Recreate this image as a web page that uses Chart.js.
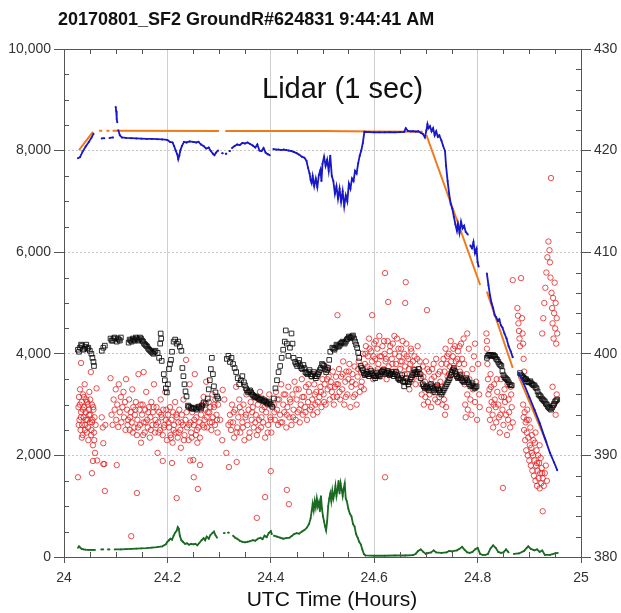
<!DOCTYPE html>
<html>
<head>
<meta charset="utf-8">
<script src="https://cdn.jsdelivr.net/npm/chart.js@4.4.1/dist/chart.umd.min.js"></script>
<style>
  body { margin: 0; background: #fff; }
  canvas { display: block; }
</style>
</head>
<body>
<canvas id="myChart" width="621" height="613"></canvas>
<script>
// ---- chart text ----
const chartTitle = '20170801_SF2 GroundR#624831 9:44:41 AM';
const xTitle = 'UTC Time (Hours)';
const noteText = 'Lidar (1 sec)';

// ---- axis ranges / ticks ----
const xTicks = [24, 25, 0.2];          // min, max, step
const leftTicks = [0, 10000, 2000];
const rightTicks = [380, 430, 10];

// ---- series: [time (hours), value] ; null = gap ----
// orange: lidar altitude (left axis)
const lidarFit = [
  [24.029, 8010], [24.056, 8370], [24.060, null],
  [24.068, 8390], [24.074, 8390], [24.077, null],
  [24.082, 8390], [24.088, 8390], [24.091, null],
  [24.094, 8390], [24.300, 8388], [24.302, null],
  [24.306, 8388], [24.309, null],
  [24.312, 8388], [24.500, 8385], [24.600, 8375], [24.694, 8372], [24.697, null],
  [24.701, 8307], [24.805, 5354], [24.810, null],
  [24.818, 5223], [24.868, 3720], [24.874, null],
  [24.880, 3543], [24.934, 2244]
];

// blue: lidar 1 sec altitude (left axis)
const lidar1s = [
  [24.027, 7850], [24.031, 7870], [24.036, 7980], [24.042, 8080], [24.048, 8170], [24.053, 8250], [24.057, 8330], [24.062, null],
  [24.073, 8240], [24.078, 8245], [24.082, null], [24.088, 8250], [24.095, 8260], [24.098, null],
  [24.100, 8860], [24.101, 8780], [24.102, 8620], [24.103, 8560], [24.104, null],
  [24.105, 8400], [24.108, 8300], [24.112, 8260], [24.120, 8250], [24.130, 8245], [24.140, 8240], [24.150, 8235],
  [24.160, 8230], [24.170, 8230], [24.180, 8225], [24.190, 8220], [24.200, 8210],
  [24.205, 8170], [24.210, 8160], [24.213, 8090], [24.216, 8000], [24.219, 7930], [24.221, 7830], [24.223, 7900],
  [24.225, 8000], [24.228, 8090], [24.232, 8170], [24.237, 8160], [24.243, 8180], [24.250, 8170], [24.256, 8160],
  [24.260, 8175], [24.265, 8120], [24.270, 8090], [24.275, 8040], [24.280, 8060], [24.284, 7990], [24.288, 7940],
  [24.291, 7910], [24.294, 7960], [24.298, 8000], [24.300, null],
  [24.306, 7950], [24.307, 7950], [24.309, null], [24.313, 7940], [24.314, 7940], [24.316, null], [24.320, 7990], [24.321, 7990], [24.322, null],
  [24.325, 8050], [24.330, 8090], [24.335, 8120], [24.340, 8110], [24.345, 8150], [24.350, 8140], [24.355, 8160],
  [24.360, 8130], [24.365, 8100], [24.370, 8060], [24.374, 8120], [24.378, 8000], [24.382, 7990], [24.386, 8050],
  [24.390, 7960], [24.394, 7930], [24.398, 7910], [24.401, null],
  [24.405, 8030], [24.410, 8020], [24.415, 8020], [24.420, 8010], [24.425, 8020], [24.430, 8010], [24.435, 8000],
  [24.440, 7990], [24.445, 7970], [24.450, 7950], [24.455, 7920], [24.460, 7880], [24.465, 7860], [24.469, 7800],
  [24.472, 7660], [24.475, 7550], [24.477, 7420], [24.479, 7360], [24.481, 7500], [24.484, 7300], [24.487, 7450],
  [24.490, 7280], [24.493, 7520], [24.496, 7620], [24.498, 7400], [24.500, 7740], [24.503, 7880], [24.506, 7700],
  [24.509, 7820], [24.512, 7600], [24.515, 7900], [24.518, 7500], [24.521, 7400], [24.524, 7150], [24.527, 7300],
  [24.530, 7050], [24.533, 7250], [24.536, 6990], [24.539, 7200], [24.542, 6900], [24.545, 7120], [24.548, 7000],
  [24.551, 7350], [24.554, 7250], [24.557, 7450], [24.560, 7400], [24.563, 7600], [24.566, 7550], [24.569, 7750],
  [24.572, 7900], [24.575, 8000], [24.578, 8150], [24.581, 8370], [24.590, 8365], [24.600, 8360], [24.610, 8360],
  [24.620, 8360], [24.630, 8365], [24.640, 8360], [24.650, 8365], [24.658, 8370], [24.661, 8440], [24.665, 8390],
  [24.670, 8380], [24.675, 8385], [24.680, 8375], [24.685, 8380], [24.690, 8350], [24.694, 8330], [24.698, 8260],
  [24.701, 8400], [24.703, 8520], [24.705, 8440], [24.708, 8480], [24.711, 8380], [24.714, 8440], [24.717, 8300],
  [24.720, 8380], [24.723, 8270], [24.726, 8300], [24.730, 8200], [24.733, 8100], [24.737, 7990], [24.739, 7700],
  [24.742, 7400], [24.745, 7150], [24.748, 6950], [24.751, 6860], [24.754, 6700], [24.757, 6550], [24.760, 6420],
  [24.762, 6560], [24.765, 6380], [24.768, 6600], [24.771, 6470], [24.774, 6520], [24.777, 6400], [24.781, 6350], [24.783, null],
  [24.786, 6130], [24.789, 6080], [24.792, 6200], [24.795, 5980], [24.798, 6070], [24.800, 5800], [24.802, 5720], [24.806, null],
  [24.818, 5580], [24.821, 5350], [24.824, 5150], [24.827, 5000], [24.830, 4900], [24.833, 4760], [24.836, 4720],
  [24.839, 4650], [24.842, 4680], [24.845, 4560], [24.848, 4520], [24.852, 4400], [24.856, 4300], [24.860, 4150],
  [24.864, 4050], [24.868, 3930], [24.874, null],
  [24.880, 3620], [24.890, 3400], [24.900, 3150], [24.910, 2900], [24.920, 2640], [24.930, 2340], [24.940, 2050],
  [24.948, 1860], [24.954, 1710]
];

// black squares: right axis
const co2 = [
  [24.027, 400.4], [24.029, 400.2], [24.031, 400.6], [24.033, 400.9], [24.035, 400.8], [24.037, 400.4], [24.039, 400.5],
  [24.041, 400.7], [24.043, 400.9], [24.045, 400.5], [24.047, 400.6], [24.050, 400.3],
  [24.053, 400.0], [24.055, 399.6], [24.057, 399.2], [24.058, 398.8],
  [24.073, 400.3], [24.076, 400.6], [24.079, 400.8],
  [24.090, 401.5], [24.092, 401.3], [24.094, 401.3], [24.096, 401.5], [24.098, 401.6], [24.102, 401.2], [24.104, 401.5],
  [24.106, 401.4], [24.108, 401.3], [24.110, 401.6],
  [24.125, 401.1], [24.127, 401.4], [24.129, 401.3], [24.131, 401.2], [24.133, 401.5], [24.135, 401.4], [24.137, 401.3],
  [24.139, 401.6], [24.141, 401.5], [24.143, 401.3], [24.145, 401.4], [24.147, 401.6], [24.149, 401.5], [24.151, 401.3],
  [24.153, 401.2], [24.155, 401.0], [24.157, 400.9], [24.159, 400.8], [24.161, 400.7], [24.163, 400.5], [24.165, 400.4],
  [24.167, 400.3], [24.169, 400.2], [24.171, 400.1], [24.173, 400.0], [24.175, 400.2], [24.177, 400.3],
  [24.181, 400.1], [24.184, 399.6], [24.186, 401.0], [24.187, 402.0], [24.188, 401.5], [24.189, 399.3],
  [24.193, 398.0], [24.195, 397.4], [24.197, 396.6], [24.199, 396.2], [24.201, 397.0], [24.203, 398.5], [24.205, 399.0],
  [24.207, 399.4], [24.209, 400.2],
  [24.212, 401.2], [24.215, 401.4], [24.218, 401.0], [24.221, 401.2], [24.224, 400.7], [24.227, 400.3],
  [24.229, 398.6], [24.231, 397.8], [24.233, 397.0], [24.235, 396.3], [24.237, 395.8],
  [24.240, 394.9], [24.242, 394.8], [24.245, 394.7], [24.247, 394.6], [24.250, 394.6], [24.252, 394.7], [24.255, 394.6],
  [24.257, 394.5], [24.260, 394.8], [24.262, 394.7], [24.265, 394.6], [24.267, 394.9], [24.270, 395.2], [24.274, 395.1],
  [24.278, 395.6], [24.280, 396.5], [24.282, 397.4], [24.284, 398.5], [24.286, 399.6], [24.288, 398.0], [24.290, 396.8],
  [24.293, 396.2], [24.296, 395.8], [24.298, 395.6],
  [24.315, 399.5], [24.318, 399.8], [24.321, 399.2], [24.324, 399.6], [24.327, 399.0], [24.330, 398.6], [24.333, 398.2],
  [24.336, 397.6], [24.339, 397.0], [24.342, 397.4], [24.345, 397.8],
  [24.348, 397.2], [24.350, 396.9], [24.352, 396.6], [24.354, 396.4], [24.356, 396.2], [24.358, 396.3], [24.360, 396.4],
  [24.362, 396.2], [24.364, 396.0], [24.366, 395.9], [24.368, 395.8], [24.370, 395.7], [24.372, 395.8], [24.374, 395.7],
  [24.376, 395.6], [24.378, 395.5], [24.380, 395.5], [24.382, 395.6], [24.384, 395.4], [24.386, 395.3], [24.388, 395.4],
  [24.390, 395.3], [24.392, 395.2], [24.394, 395.1], [24.396, 395.3], [24.398, 395.1], [24.400, 395.0], [24.403, 394.8],
  [24.406, 395.6], [24.409, 396.6], [24.412, 397.4], [24.415, 398.2], [24.418, 398.8], [24.421, 399.6], [24.424, 400.4],
  [24.427, 401.2], [24.429, 402.3], [24.431, 401.0], [24.434, 399.8], [24.437, 400.6], [24.440, 402.0], [24.442, 401.0], [24.444, 399.6],
  [24.447, 399.2], [24.449, 399.0], [24.451, 398.8], [24.453, 399.1], [24.455, 399.4], [24.457, 398.8], [24.459, 398.6],
  [24.461, 398.5], [24.463, 398.9], [24.465, 398.6], [24.467, 398.2], [24.469, 398.1], [24.471, 398.0], [24.473, 398.2],
  [24.475, 398.4], [24.477, 398.0], [24.479, 397.8], [24.481, 398.0], [24.483, 398.2], [24.485, 397.8], [24.487, 397.6],
  [24.489, 397.8], [24.491, 398.0], [24.493, 398.2], [24.495, 398.4], [24.497, 398.6], [24.499, 399.0], [24.501, 398.9],
  [24.503, 398.8], [24.505, 398.5], [24.507, 398.2], [24.509, 398.4], [24.511, 398.6], [24.513, 399.4], [24.515, 400.2],
  [24.519, 400.6], [24.521, 400.5], [24.523, 400.4], [24.525, 400.6], [24.527, 400.9], [24.529, 400.8], [24.531, 400.7],
  [24.533, 400.8], [24.535, 401.0], [24.537, 401.1], [24.539, 401.2], [24.541, 401.1], [24.543, 401.0], [24.545, 401.2],
  [24.547, 401.4], [24.549, 401.5], [24.551, 401.7], [24.553, 401.6], [24.555, 401.6], [24.557, 401.7], [24.559, 401.8],
  [24.561, 401.5], [24.563, 401.2], [24.565, 400.9], [24.567, 400.6], [24.569, 400.1], [24.571, 399.6],
  [24.574, 398.8], [24.576, 398.6], [24.578, 398.4], [24.580, 398.1], [24.582, 397.9], [24.584, 398.0], [24.586, 398.2],
  [24.588, 398.0], [24.590, 397.8], [24.592, 398.0], [24.594, 398.3], [24.596, 398.1], [24.598, 397.9], [24.600, 397.8],
  [24.602, 397.6], [24.604, 397.8], [24.606, 398.1], [24.608, 397.9], [24.610, 397.8], [24.612, 398.0], [24.614, 398.2],
  [24.616, 398.3], [24.618, 398.4], [24.620, 398.2], [24.622, 398.0], [24.624, 398.1], [24.626, 398.3], [24.628, 398.1],
  [24.630, 397.9], [24.632, 398.0], [24.634, 398.2], [24.636, 398.0], [24.638, 397.8], [24.640, 398.0], [24.642, 398.2],
  [24.644, 397.9], [24.646, 397.6], [24.648, 397.5], [24.650, 397.4], [24.652, 397.6], [24.654, 397.9], [24.656, 397.3],
  [24.658, 396.8], [24.660, 397.2], [24.662, 397.6], [24.664, 397.3], [24.666, 397.0], [24.668, 397.2], [24.670, 397.5],
  [24.672, 397.7], [24.674, 397.9], [24.676, 398.1], [24.678, 398.4], [24.680, 398.2], [24.682, 398.0], [24.684, 398.2],
  [24.686, 398.5], [24.688, 398.0], [24.690, 397.6],
  [24.694, 397.0], [24.696, 396.8], [24.698, 396.6], [24.700, 396.7], [24.702, 396.8], [24.704, 396.6], [24.706, 396.4],
  [24.708, 396.7], [24.710, 397.0], [24.712, 396.8], [24.714, 396.6], [24.716, 396.4], [24.718, 396.2], [24.720, 396.5],
  [24.722, 396.9], [24.724, 396.6], [24.726, 396.4], [24.728, 396.2], [24.730, 396.0], [24.732, 396.2], [24.734, 396.4],
  [24.736, 396.6], [24.738, 396.8], [24.740, 397.0], [24.742, 397.2], [24.744, 397.4], [24.746, 397.6], [24.748, 397.9],
  [24.750, 398.2], [24.752, 398.4], [24.754, 398.6], [24.756, 398.3], [24.758, 398.0], [24.760, 397.8], [24.762, 397.6],
  [24.764, 397.7], [24.766, 397.9], [24.768, 397.6], [24.770, 397.4], [24.772, 397.3], [24.774, 397.2], [24.776, 397.4],
  [24.778, 397.6], [24.780, 397.4], [24.782, 397.2], [24.784, 397.0], [24.786, 396.8], [24.788, 396.9], [24.790, 397.1],
  [24.792, 396.8], [24.794, 396.6], [24.796, 396.7], [24.798, 396.8],
  [24.818, 399.6], [24.820, 399.8], [24.822, 399.9], [24.824, 399.9], [24.826, 399.8], [24.828, 399.8], [24.830, 399.9],
  [24.832, 399.8], [24.834, 399.7], [24.836, 399.5], [24.838, 399.4], [24.840, 399.2], [24.842, 399.0], [24.844, 398.9],
  [24.846, 398.8], [24.848, 398.3], [24.850, 397.9], [24.852, 397.7], [24.854, 397.6], [24.856, 397.5], [24.858, 397.4],
  [24.860, 397.2], [24.862, 397.0], [24.864, 396.9], [24.866, 396.9],
  [24.882, 398.1], [24.884, 397.9], [24.886, 397.8], [24.888, 397.7], [24.890, 397.6], [24.892, 397.5], [24.894, 397.5],
  [24.896, 397.3], [24.898, 397.2], [24.900, 397.2], [24.902, 397.3], [24.904, 397.1], [24.906, 397.0], [24.908, 396.9],
  [24.910, 396.9], [24.912, 396.7], [24.914, 396.6], [24.916, 396.3], [24.918, 396.0], [24.920, 395.9], [24.922, 395.8],
  [24.924, 395.6], [24.926, 395.5], [24.928, 395.4], [24.930, 395.3], [24.932, 395.1], [24.934, 395.0], [24.936, 394.8],
  [24.938, 394.7], [24.940, 394.6], [24.942, 394.5], [24.944, 394.7], [24.946, 394.9], [24.948, 395.1], [24.950, 395.3],
  [24.952, 395.4], [24.954, 395.5]
];

// red circles: left axis
const redPts = [
  [24.028, 2950], [24.029, 3150], [24.030, 2700], [24.031, 3300], [24.032, 2500], [24.033, 3820], [24.033, 2850],
  [24.034, 3050], [24.035, 2600], [24.036, 2400], [24.037, 3200], [24.038, 2750], [24.039, 2950], [24.040, 3400],
  [24.041, 2600], [24.042, 2850], [24.043, 3100], [24.044, 2450], [24.045, 2700], [24.046, 3000], [24.047, 2300],
  [24.048, 2900], [24.049, 3250], [24.050, 2650], [24.051, 2800], [24.052, 3640], [24.053, 2500], [24.054, 3000],
  [24.055, 2700], [24.056, 2200], [24.057, 2900], [24.058, 2450], [24.059, 2750], [24.060, 2050], [24.061, 2600],
  [24.063, 3320], [24.064, 1900],
  [24.0285, 2600], [24.0305, 3000], [24.0325, 2750], [24.0345, 2350], [24.0365, 2900], [24.0385, 3150], [24.0405, 2500],
  [24.0425, 2700], [24.0445, 3050], [24.0465, 2550], [24.0485, 2800], [24.0505, 3100], [24.0525, 2400], [24.0545, 2650],
  [24.0565, 2950], [24.0585, 2300],
  [24.073, 2750], [24.075, 2550], [24.076, 2240], [24.078, 1830], [24.080, 2600],
  [24.090, 3520], [24.092, 2800], [24.094, 2600], [24.096, 3100], [24.098, 2900], [24.100, 3300], [24.101, 2700],
  [24.103, 3000], [24.105, 2560], [24.106, 3400], [24.108, 2850], [24.110, 3150], [24.111, 2650], [24.113, 2950],
  [24.115, 3250], [24.116, 2750], [24.118, 3050], [24.119, 2500], [24.120, 3500],
  [24.122, 2900], [24.124, 2700], [24.126, 3100], [24.127, 2500], [24.129, 2850], [24.131, 2650], [24.132, 3300],
  [24.134, 2950], [24.136, 2550], [24.137, 2800], [24.139, 3050], [24.141, 2400], [24.142, 2700], [24.144, 3600],
  [24.146, 2900], [24.147, 2600], [24.149, 2250], [24.151, 2800], [24.152, 3000], [24.154, 2650], [24.156, 2450],
  [24.157, 2900], [24.159, 3250], [24.161, 2700], [24.162, 2550], [24.164, 2950], [24.166, 2350], [24.167, 2750],
  [24.169, 3050], [24.171, 2600], [24.172, 2850], [24.174, 3400], [24.176, 2450], [24.177, 2700], [24.179, 2950],
  [24.181, 2050], [24.182, 2650], [24.184, 2850], [24.186, 2500], [24.187, 3100], [24.189, 2750], [24.191, 2400],
  [24.192, 2900], [24.194, 2600], [24.196, 3250], [24.197, 2700], [24.199, 2300],
  [24.123, 2600], [24.128, 2750], [24.133, 2450], [24.138, 2900], [24.143, 2550], [24.148, 3000], [24.153, 2400],
  [24.158, 2650], [24.163, 2850], [24.168, 2500], [24.173, 2950], [24.178, 2600], [24.183, 2450], [24.188, 2800],
  [24.193, 2550], [24.198, 2900],
  [24.201, 2800], [24.203, 2550], [24.205, 2950], [24.206, 2400], [24.208, 2700], [24.210, 2250], [24.211, 2850],
  [24.213, 2600], [24.215, 3050], [24.216, 2450], [24.218, 2750], [24.220, 2350], [24.221, 2650], [24.223, 2900],
  [24.225, 2500], [24.226, 2150], [24.228, 2800], [24.230, 2600], [24.231, 3100], [24.233, 2400], [24.235, 2700],
  [24.236, 3880], [24.238, 2550], [24.240, 2950], [24.241, 2300], [24.243, 3400], [24.245, 2650], [24.246, 2450],
  [24.248, 2850], [24.250, 1910], [24.251, 2600], [24.253, 3600], [24.255, 2400], [24.256, 2750], [24.258, 2250],
  [24.260, 2550], [24.261, 2950], [24.263, 2350],
  [24.202, 2650], [24.207, 2350], [24.212, 2500], [24.217, 2800], [24.222, 2450], [24.227, 2650], [24.232, 2300],
  [24.237, 2850], [24.242, 2600], [24.247, 2350], [24.252, 2700], [24.257, 2500], [24.262, 2650],
  [24.265, 2800], [24.267, 3000], [24.268, 2600], [24.270, 3150], [24.272, 2700], [24.273, 2900], [24.275, 3450],
  [24.277, 2550], [24.278, 2850], [24.280, 3050], [24.282, 2650], [24.283, 2950], [24.285, 2500], [24.287, 3200],
  [24.288, 2750], [24.290, 2950], [24.292, 2600], [24.293, 3100], [24.295, 2800], [24.297, 2450], [24.298, 3000],
  [24.266, 2950], [24.271, 2550], [24.276, 2750], [24.281, 2850], [24.286, 2650], [24.291, 3000], [24.296, 2700],
  [24.302, 2700], [24.306, 2300], [24.310, 3100], [24.314, 2050], [24.318, 2600],
  [24.321, 2800], [24.323, 2500], [24.325, 3000], [24.327, 2650], [24.329, 2350], [24.331, 2900], [24.333, 3350],
  [24.335, 2550], [24.337, 2750], [24.339, 3100], [24.341, 2450], [24.343, 2850], [24.345, 2650], [24.347, 3000],
  [24.349, 2300], [24.351, 2750], [24.353, 3200], [24.355, 2600], [24.357, 2900], [24.359, 2450], [24.361, 3050],
  [24.363, 2700], [24.365, 2950], [24.367, 2550], [24.369, 3150], [24.371, 2800], [24.373, 2400], [24.375, 3000],
  [24.377, 2700], [24.379, 3250], [24.381, 2550], [24.383, 2900], [24.385, 2650], [24.387, 3100], [24.389, 2350],
  [24.391, 2850], [24.393, 3000], [24.395, 2600], [24.397, 3200], [24.399, 2750], [24.401, 2450], [24.403, 2950],
  [24.322, 2650], [24.328, 2850], [24.334, 2450], [24.340, 2950], [24.346, 2550], [24.352, 2800], [24.358, 2350],
  [24.364, 2850], [24.370, 2650], [24.376, 2500], [24.382, 2750], [24.388, 2950], [24.394, 2450], [24.400, 2700],
  [24.406, 3000], [24.408, 2700], [24.410, 3250], [24.412, 2900], [24.414, 2600], [24.416, 3100], [24.418, 2800],
  [24.420, 3400], [24.422, 2650], [24.424, 3000], [24.426, 2850], [24.428, 3200], [24.430, 2550], [24.432, 2950],
  [24.434, 3350], [24.436, 2750], [24.438, 3050], [24.440, 2600], [24.442, 3200], [24.444, 2900], [24.446, 3450],
  [24.448, 2700], [24.450, 3100], [24.452, 2850], [24.454, 3300], [24.456, 2650], [24.458, 3000], [24.460, 3500],
  [24.462, 2800], [24.464, 3150], [24.466, 2950], [24.468, 3350], [24.470, 2700], [24.472, 3050], [24.474, 3250],
  [24.476, 2900], [24.478, 3550], [24.480, 3100], [24.482, 2800], [24.484, 3400], [24.486, 3000], [24.488, 3250],
  [24.490, 2850], [24.492, 3600], [24.494, 3150], [24.496, 3350], [24.498, 2950], [24.500, 3500], [24.502, 3200],
  [24.504, 3400], [24.506, 3000], [24.508, 3740], [24.510, 3300], [24.512, 3550], [24.514, 3100], [24.516, 3450],
  [24.518, 3250], [24.520, 3650], [24.522, 3000], [24.524, 3350], [24.526, 3550], [24.528, 3150], [24.529, 4760],
  [24.407, 2850], [24.413, 3100], [24.419, 2650], [24.425, 3200], [24.431, 2800], [24.437, 3100], [24.443, 2750],
  [24.449, 3300], [24.455, 2900], [24.461, 3150], [24.467, 2850], [24.473, 3400], [24.479, 2950], [24.485, 3200],
  [24.491, 3050], [24.497, 3250], [24.503, 3050], [24.509, 3500], [24.515, 3350], [24.521, 3150], [24.527, 3400],
  [24.530, 3400], [24.532, 3700], [24.534, 3100], [24.536, 3550], [24.538, 3300], [24.540, 3850], [24.542, 3000],
  [24.544, 3450], [24.546, 3650], [24.548, 3200], [24.550, 3500], [24.552, 3800], [24.554, 2950], [24.556, 3350],
  [24.558, 3600], [24.560, 3150], [24.562, 3750], [24.564, 3400], [24.566, 3000], [24.568, 3550], [24.570, 3850],
  [24.572, 3250], [24.574, 3650], [24.576, 3450], [24.578, 4000], [24.580, 3300],
  [24.533, 3250], [24.539, 3600], [24.545, 3150], [24.551, 3650], [24.557, 3450], [24.563, 3200], [24.569, 3700],
  [24.575, 3350],
  [24.582, 3800], [24.584, 4150], [24.586, 3600], [24.588, 3950], [24.590, 4300], [24.592, 3700], [24.594, 4050],
  [24.596, 3850], [24.596, 4760], [24.598, 3500], [24.600, 4200], [24.602, 3900], [24.604, 3650], [24.606, 4100],
  [24.608, 3800], [24.610, 4350], [24.612, 3550], [24.614, 3950], [24.616, 4150], [24.618, 3700], [24.620, 4000],
  [24.621, 5590], [24.622, 3850], [24.624, 3500], [24.626, 4250], [24.627, 5020], [24.628, 3750], [24.630, 4050],
  [24.632, 3600], [24.634, 3900], [24.636, 4200], [24.638, 3650], [24.640, 4000], [24.642, 3800], [24.644, 4300],
  [24.646, 3550], [24.648, 3950], [24.650, 3700], [24.652, 4100], [24.654, 3850], [24.656, 3450], [24.658, 4000],
  [24.660, 3750], [24.660, 5000], [24.661, 5410], [24.662, 4200], [24.664, 3600], [24.666, 3900], [24.668, 3300],
  [24.670, 3800], [24.672, 4050], [24.674, 3500], [24.676, 3700], [24.678, 3950], [24.680, 3400], [24.682, 3650],
  [24.684, 4150], [24.686, 3550], [24.688, 3850],
  [24.583, 4000], [24.587, 3750], [24.591, 4100], [24.595, 3600], [24.599, 3950], [24.603, 4250], [24.607, 3700],
  [24.611, 3950], [24.615, 3650], [24.619, 4250], [24.623, 3900], [24.627, 3650], [24.631, 4150], [24.635, 3800],
  [24.639, 4350], [24.643, 3650], [24.647, 4100], [24.651, 3850], [24.655, 4250], [24.659, 3600], [24.663, 3950],
  [24.667, 3700], [24.671, 4100], [24.675, 3850], [24.679, 3600], [24.683, 3900], [24.687, 3700],
  [24.690, 3600], [24.692, 3200], [24.694, 3750], [24.696, 3000], [24.698, 3450], [24.700, 3850], [24.702, 3300],
  [24.702, 4860], [24.704, 3050], [24.706, 3650], [24.708, 3400], [24.710, 2950], [24.712, 3700], [24.714, 3250],
  [24.716, 3550], [24.718, 3100], [24.720, 3900], [24.722, 3350], [24.724, 3600], [24.726, 3150], [24.728, 3450],
  [24.730, 3800], [24.732, 3000],
  [24.691, 3400], [24.695, 3550], [24.699, 3150], [24.703, 3700], [24.707, 3200], [24.711, 3500], [24.715, 3800],
  [24.719, 3350], [24.723, 3050], [24.727, 3650], [24.731, 3350],
  [24.734, 3900], [24.735, 3100], [24.736, 3650], [24.737, 2800], [24.738, 4100], [24.739, 2950], [24.740, 3800],
  [24.742, 3550], [24.744, 4000], [24.746, 3750], [24.748, 4250], [24.750, 3600], [24.752, 3950], [24.754, 3700],
  [24.756, 4150], [24.758, 3850], [24.760, 3550], [24.762, 4050], [24.764, 3800], [24.766, 3650], [24.768, 4200],
  [24.770, 3900],
  [24.741, 3950], [24.745, 3600], [24.749, 3850], [24.753, 4100], [24.757, 3650], [24.761, 3900], [24.765, 4150],
  [24.769, 3600],
  [24.773, 4300], [24.774, 3800], [24.775, 3400], [24.776, 3000], [24.777, 2750], [24.779, 3600], [24.780, 4400],
  [24.780, 3200], [24.781, 2900], [24.783, 4100], [24.784, 3500], [24.786, 3100], [24.788, 2800], [24.790, 3700],
  [24.791, 3300], [24.793, 3950], [24.795, 4200], [24.795, 3050], [24.797, 3450], [24.799, 2700], [24.801, 3800],
  [24.803, 3200], [24.804, 2950],
  [24.817, 4400], [24.818, 4100], [24.818, 4250], [24.819, 3800], [24.820, 3500], [24.821, 3200], [24.822, 2900],
  [24.824, 2700], [24.825, 3600], [24.826, 3350], [24.827, 3050], [24.829, 2800], [24.830, 2550], [24.832, 3400],
  [24.833, 3100], [24.835, 2950], [24.836, 2650], [24.838, 3250], [24.840, 3000], [24.841, 2750], [24.843, 2450],
  [24.845, 3500], [24.846, 3150], [24.848, 2900], [24.849, 1360], [24.850, 2600], [24.852, 3300], [24.853, 3050],
  [24.855, 2800], [24.857, 2400], [24.858, 3400], [24.860, 3100], [24.861, 2850], [24.863, 2550], [24.865, 3200],
  [24.866, 2950], [24.868, 2650], [24.868, 5450],
  [24.823, 3300], [24.831, 3000], [24.837, 3500], [24.844, 2800], [24.851, 3150], [24.859, 2700], [24.864, 3350],
  [24.877, 4900], [24.878, 4750], [24.879, 4600], [24.880, 4450], [24.881, 4300], [24.882, 4150], [24.884, 5490],
  [24.886, 4700], [24.887, 4400], [24.888, 4200], [24.889, 3900], [24.890, 3650],
  [24.888, 3000], [24.889, 2750], [24.890, 2500], [24.891, 2850], [24.892, 2300], [24.893, 2650], [24.894, 2100],
  [24.895, 2450], [24.896, 2900], [24.897, 2000], [24.898, 2350], [24.899, 2700], [24.900, 1900], [24.901, 2200],
  [24.902, 2550], [24.903, 1800], [24.904, 2150], [24.905, 2400], [24.906, 1700], [24.907, 2000], [24.908, 2300],
  [24.909, 1600], [24.910, 1900], [24.911, 2250], [24.912, 1500], [24.913, 1800], [24.914, 2100], [24.915, 1400],
  [24.916, 1700], [24.917, 2000], [24.918, 1550], [24.919, 1850], [24.920, 1350], [24.921, 1650], [24.922, 1950],
  [24.923, 1450], [24.924, 1750], [24.926, 1550], [24.926, 900], [24.928, 1400], [24.930, 1650], [24.932, 1800],
  [24.934, 1500],
  [24.895, 2700], [24.905, 2050], [24.915, 1850], [24.925, 1650], [24.912, 2450], [24.920, 2200],
  [24.925, 4400], [24.927, 4700], [24.929, 5000], [24.931, 5300], [24.933, 5600], [24.935, 5900], [24.937, 6210],
  [24.939, 6040], [24.940, 5800], [24.941, 5500], [24.942, 7460], [24.943, 5200], [24.944, 4900], [24.945, 4600],
  [24.945, 3350], [24.946, 5100], [24.947, 4300], [24.948, 4800], [24.948, 3000], [24.949, 5400], [24.950, 4500],
  [24.951, 5000], [24.951, 2800], [24.952, 4200], [24.953, 4700], [24.953, 3200], [24.954, 4400],
  // scattered low points
  [24.027, 1570], [24.054, 1650], [24.079, 1300], [24.141, 1260], [24.130, 410], [24.218, 1160], [24.251, 1570],
  [24.259, 1340], [24.373, 770], [24.389, 1180], [24.400, 1690], [24.431, 1320], [24.435, 1040], [24.621, 1570],
  [24.056, 1890], [24.076, 1830], [24.102, 1810], [24.191, 1890], [24.209, 1850], [24.244, 1900], [24.263, 1810],
  [24.319, 1770], [24.334, 1870], [24.154, 3640], [24.307, 3290]
];

// green: left axis
const greenPts = [
  [24.027, 180], [24.029, 210], [24.031, 190], [24.034, 160], [24.038, 150], [24.042, 145], [24.047, 140],
  [24.052, 140], [24.056, 140], [24.060, 140], [24.064, null],
  [24.072, 150], [24.076, 150], [24.079, null], [24.085, 150], [24.088, 150], [24.091, null],
  [24.098, 150], [24.110, 150], [24.120, 155], [24.130, 160], [24.140, 165], [24.150, 170], [24.160, 175],
  [24.170, 185], [24.180, 195], [24.190, 210], [24.197, 250], [24.200, 300], [24.203, 330], [24.206, 360],
  [24.209, 340], [24.212, 420], [24.215, 480], [24.218, 520], [24.220, 590], [24.222, 560], [24.224, 420],
  [24.227, 330], [24.230, 300], [24.234, 260], [24.238, 270], [24.242, 240], [24.246, 260], [24.250, 250],
  [24.254, 260], [24.258, 230], [24.262, 280], [24.266, 330], [24.270, 370], [24.273, 330], [24.276, 400],
  [24.280, 360], [24.283, 430], [24.287, 470], [24.290, 500], [24.293, 430], [24.296, 380], [24.300, null],
  [24.309, 470], [24.311, 470], [24.313, null], [24.317, 480], [24.319, 480], [24.322, null],
  [24.327, 420], [24.331, 380], [24.335, 360], [24.340, 320], [24.345, 300], [24.350, 290], [24.355, 300],
  [24.360, 310], [24.365, 330], [24.370, 320], [24.375, 360], [24.380, 380], [24.384, 350], [24.388, 420],
  [24.392, 390], [24.396, 470], [24.400, 510], [24.402, 450], [24.404, null],
  [24.406, 420], [24.412, 400], [24.418, 380], [24.424, 360], [24.430, 370], [24.436, 380], [24.440, 410],
  [24.445, 450], [24.450, 470], [24.455, 460], [24.460, 500], [24.465, 530], [24.470, 580], [24.474, 650],
  [24.477, 760], [24.479, 900], [24.481, 1050], [24.483, 920], [24.485, 1100], [24.487, 980], [24.489, 1150],
  [24.491, 1000], [24.493, 1080], [24.495, 900], [24.497, 1200], [24.499, 950], [24.501, 800], [24.503, 700],
  [24.505, 600], [24.507, 520], [24.509, 700], [24.511, 1000], [24.513, 1150], [24.515, 1250], [24.517, 1100],
  [24.519, 1300], [24.521, 1150], [24.523, 1250], [24.525, 1400], [24.527, 1200], [24.529, 1320], [24.531, 1500],
  [24.533, 1250], [24.535, 1450], [24.537, 1330], [24.539, 1200], [24.541, 1350], [24.543, 1450], [24.545, 1150],
  [24.547, 1100], [24.550, 950], [24.553, 850], [24.556, 800], [24.559, 650], [24.562, 600], [24.565, 450],
  [24.568, 380], [24.571, 300], [24.574, 250], [24.577, 150], [24.580, 60], [24.583, 30], [24.600, 25],
  [24.620, 25], [24.640, 30], [24.660, 30], [24.675, 35], [24.680, 60], [24.685, 120], [24.690, 150],
  [24.695, 100], [24.700, 60], [24.705, 80], [24.710, 90], [24.715, 130], [24.720, 90], [24.730, 80],
  [24.740, 90], [24.745, 120], [24.750, 110], [24.760, 130], [24.765, 160], [24.770, 200], [24.775, 140],
  [24.780, 90], [24.785, 80], [24.790, 100], [24.795, 150], [24.800, 180], [24.805, 60], [24.810, 40],
  [24.815, 40], [24.820, 60], [24.825, 170], [24.830, 230], [24.835, 180], [24.840, 100], [24.845, 80],
  [24.850, 90], [24.855, 150], [24.860, 90], [24.863, null],
  [24.870, 60], [24.880, 70], [24.890, 120], [24.895, 180], [24.898, 210], [24.903, 160], [24.910, 130],
  [24.915, 150], [24.920, 100], [24.925, 130], [24.930, 40], [24.940, 40], [24.950, 70], [24.955, 80]
];

// annotation anchor (data units)
const notePos = [24.383, 9190];

const font = '"Liberation Sans", Arial, Helvetica, sans-serif';
const toXY = arr => arr.map(([x, y]) => ({ x, y }));

// frame, minor ticks and texts
const decor = {
    id: 'decor',
    afterDraw(chart) {
        const { ctx, chartArea: a, scales } = chart;
        const xs = scales.x, yl = scales.y, yr = scales.y2;
        ctx.save();
        ctx.strokeStyle = '#555';
        ctx.lineWidth = 1;
        ctx.strokeRect(Math.round(a.left) + 0.5, Math.round(a.top) + 0.5,
                       Math.round(a.right - a.left), Math.round(a.bottom - a.top));
        ctx.beginPath();
        // minor ticks, pointing inward
        for (let v = leftTicks[0] + 500; v < leftTicks[1]; v += 500) {
            if (v % leftTicks[2] === 0) continue;
            const py = Math.round(yl.getPixelForValue(v)) + 0.5;
            ctx.moveTo(a.left, py); ctx.lineTo(a.left + 5, py);
        }
        for (let v = rightTicks[0] + 2; v < rightTicks[1]; v += 2) {
            if (v % rightTicks[2] === 0) continue;
            const py = Math.round(yr.getPixelForValue(v)) + 0.5;
            ctx.moveTo(a.right, py); ctx.lineTo(a.right - 5, py);
        }
        for (let i = 1; i < 20; i++) {
            if (i % 4 === 0) continue;
            const px = Math.round(xs.getPixelForValue(xTicks[0] + i * 0.05)) + 0.5;
            ctx.moveTo(px, a.bottom); ctx.lineTo(px, a.bottom - 5);
            ctx.moveTo(px, a.top); ctx.lineTo(px, a.top + 5);
        }
        ctx.stroke();

        ctx.fillStyle = '#111';
        ctx.textBaseline = 'middle';
        ctx.textAlign = 'left';
        ctx.font = 'bold 18px ' + font;
        ctx.fillText(chartTitle, 58, 20);

        ctx.font = '29px ' + font;
        ctx.fillText(noteText, xs.getPixelForValue(notePos[0]), yl.getPixelForValue(notePos[1]));

        ctx.textAlign = 'center';
        ctx.font = '21px ' + font;
        ctx.fillText(xTitle, 332, 600);
        ctx.restore();
    }
};

document.addEventListener('DOMContentLoaded', () => {
    const ctx = document.getElementById('myChart').getContext('2d');
    new Chart(ctx, {
        type: 'scatter',
        data: {
            datasets: [
                {
                    label: 'Green',
                    data: toXY(greenPts),
                    yAxisID: 'y',
                    showLine: true,
                    spanGaps: false,
                    borderColor: '#1a6a22',
                    backgroundColor: '#1a6a22',
                    borderWidth: 1.8,
                    pointRadius: 0.9,
                    pointBorderWidth: 0
                },
                {
                    label: 'Lidar 1 sec',
                    data: toXY(lidar1s),
                    yAxisID: 'y',
                    showLine: true,
                    spanGaps: false,
                    borderColor: '#1818c8',
                    backgroundColor: '#1818c8',
                    borderWidth: 1.8,
                    pointRadius: 1,
                    pointBorderWidth: 0
                },
                {
                    label: 'Lidar fit',
                    data: toXY(lidarFit),
                    yAxisID: 'y',
                    showLine: true,
                    spanGaps: false,
                    borderColor: '#ef7a1c',
                    borderWidth: 2,
                    pointRadius: 0
                },
                {
                    label: 'Black',
                    data: toXY(co2),
                    yAxisID: 'y2',
                    pointStyle: 'rect',
                    pointRadius: 3.3,
                    borderColor: 'rgba(10,10,10,0.85)',
                    backgroundColor: 'rgba(255,255,255,0)',
                    pointBorderWidth: 1
                },
                {
                    label: 'Red',
                    data: toXY(redPts),
                    yAxisID: 'y',
                    pointStyle: 'circle',
                    pointRadius: 2.7,
                    borderColor: 'rgba(228,25,25,0.9)',
                    backgroundColor: 'rgba(255,255,255,0)',
                    pointBorderWidth: 0.85
                }
            ]
        },
        options: {
            responsive: false,
            animation: false,
            events: [],
            layout: { padding: { top: 49, left: 0, right: 0, bottom: 0 } },
            plugins: {
                legend: { display: false },
                tooltip: { enabled: false },
                title: { display: false }
            },
            scales: {
                x: {
                    type: 'linear',
                    min: xTicks[0], max: xTicks[1],
                    afterFit: s => { s.height = 56; },
                    ticks: {
                        stepSize: xTicks[2],
                        autoSkip: false,
                        maxRotation: 0,
                        padding: 7,
                        color: '#333',
                        font: { family: font, size: 14 },
                        callback: v => Number(v.toFixed(1)).toString()
                    },
                    grid: { color: '#cfcfcf', lineWidth: 1, tickLength: 6, tickColor: '#555' },
                    border: { display: false }
                },
                y: {
                    position: 'left',
                    min: leftTicks[0], max: leftTicks[1],
                    afterFit: s => { s.width = 64; },
                    ticks: {
                        stepSize: leftTicks[2],
                        padding: 3,
                        color: '#333',
                        font: { family: font, size: 14 },
                        callback: v => v.toLocaleString('en-US')
                    },
                    grid: { color: '#c4c4c4', lineWidth: 1, tickLength: 10, tickColor: '#555' },
                    border: { display: false, dash: [2, 2] }
                },
                y2: {
                    position: 'right',
                    min: rightTicks[0], max: rightTicks[1],
                    afterFit: s => { s.width = 40; },
                    ticks: {
                        stepSize: rightTicks[2],
                        padding: 3,
                        color: '#333',
                        font: { family: font, size: 14 }
                    },
                    grid: { drawOnChartArea: false, tickLength: 10, tickColor: '#555' },
                    border: { display: false }
                }
            }
        },
        plugins: [decor]
    });
});
</script>
</body>
</html>
